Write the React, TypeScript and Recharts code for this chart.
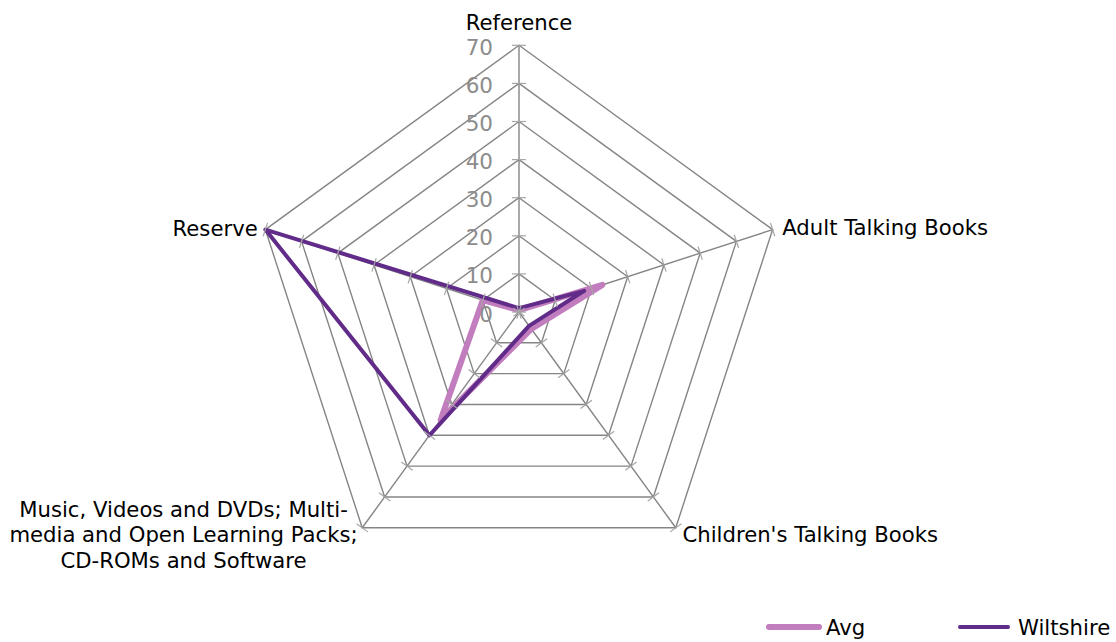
import React from "react";
import { RadarChart, Radar, PolarGrid, PolarAngleAxis, PolarRadiusAxis, Legend } from "recharts";

const categories = [
  "Reference",
  "Adult Talking Books",
  "Children's Talking Books",
  "Music, Videos and DVDs; Multi-|media and Open Learning Packs;|CD-ROMs and Software",
  "Reserve",
];
const avgValues = [0.5, 23, 5.5, 35, 10];
const wiltshireValues = [1, 18, 4.5, 40, 70];
const radiusTicks = [0, 10, 20, 30, 40, 50, 60, 70];
const seriesNames = ["Avg", "Wiltshire"];
const seriesColors = ["#C17DBE", "#612C89"];
const seriesWidths = [6, 4];

const data = categories.map((c, i) => ({ cat: c, Avg: avgValues[i], Wiltshire: wiltshireValues[i] }));

const W = 1116;
const H = 642;
const CX = 519;
const CY = 312;
const OUTER = 266.7;
const FONT = "DejaVu Sans";
const FS = 21.2;

const AngleTick = (props: any) => {
  const { x, y, payload, index } = props;
  const lines = String(payload.value).split("|");
  const common = { fontFamily: FONT, fontSize: FS, fill: "#000" };
  if (index === 0) {
    return (
      <text x={x} y={y - 15} textAnchor="middle" dominantBaseline="central" {...common}>
        {lines[0]}
      </text>
    );
  }
  if (index === 1 || index === 2) {
    return (
      <text x={x + 2} y={y} textAnchor="start" dominantBaseline="central" {...common}>
        {lines[0]}
      </text>
    );
  }
  if (index === 4) {
    return (
      <text x={x} y={y + 1} textAnchor="end" dominantBaseline="central" {...common}>
        {lines[0]}
      </text>
    );
  }
  return (
    <text x={x - 174} y={y} textAnchor="middle" dominantBaseline="central" {...common}>
      {lines.map((l, i) => (
        <tspan key={i} x={x - 174} y={y + (i - 1) * 25.5}>
          {l}
        </tspan>
      ))}
    </text>
  );
};

const RadiusTick = (props: any) => {
  const { x, y, payload } = props;
  const r = Math.sqrt((x - CX) * (x - CX) + (y - CY) * (y - CY));
  const marks = categories.map((_, i) => {
    const ang = ((90 - i * 72) * Math.PI) / 180;
    const px = CX + r * Math.cos(ang);
    const py = CY - r * Math.sin(ang);
    const tx = -Math.sin(ang) * 7;
    const ty = -Math.cos(ang) * 7;
    return (
      <line key={i} x1={px - tx} y1={py - ty} x2={px + tx} y2={py + ty} stroke="#a6a6a6" strokeWidth={1.2} />
    );
  });
  return (
    <g>
      {marks}
      <text
        x={x - 26}
        y={y + 2}
        textAnchor="end"
        dominantBaseline="central"
        fontFamily={FONT}
        fontSize={21.5}
        fill="#8c8c8c"
      >
        {payload.value}
      </text>
    </g>
  );
};

const LegendContent = () => (
  <div style={{ position: "relative", width: 350, height: 30, fontFamily: FONT, fontSize: FS, color: "#000" }}>
    {seriesNames.map((n, i) => {
      const left = i === 0 ? 0 : 192;
      const lw = i === 0 ? 56 : 52;
      return (
        <div key={n} style={{ position: "absolute", left, top: 0, display: "flex", alignItems: "center", height: 30 }}>
          <svg width={lw} height={10} style={{ display: "block" }}>
            <line x1={seriesWidths[i] / 2} y1={5} x2={lw - seriesWidths[i] / 2} y2={5} stroke={seriesColors[i]} strokeWidth={seriesWidths[i]} strokeLinecap="round" />
          </svg>
          <span style={{ marginLeft: i === 0 ? 4 : 8, whiteSpace: "nowrap" }}>{n}</span>
        </div>
      );
    })}
  </div>
);

export default function App() {
  return (
    <div style={{ position: "absolute", left: 0, top: 0, width: W, height: H, background: "#fff" }}>
      <RadarChart width={W} height={H} data={data} cx={CX} cy={CY} outerRadius={OUTER} startAngle={90} endAngle={-270}>
        <PolarGrid gridType="polygon" stroke="#858585" strokeWidth={1.4} />
        <PolarAngleAxis dataKey="cat" tick={<AngleTick />} tickLine={false} axisLine={false} />
        <PolarRadiusAxis
          angle={90}
          domain={[0, 70]}
          ticks={radiusTicks as any}
          tickCount={8}
          axisLine={false}
          tickLine={false}
          tick={<RadiusTick />}
        />
        {seriesNames.map((n, i) => (
          <Radar
            key={n}
            name={n}
            dataKey={n}
            stroke={seriesColors[i]}
            strokeWidth={seriesWidths[i]}
            strokeLinejoin="round"
            fill="none"
            fillOpacity={0}
            dot={false}
            isAnimationActive={false}
          />
        ))}
        <Legend content={<LegendContent />} wrapperStyle={{ position: "absolute", left: 766, top: 612, width: 350 }} />
      </RadarChart>
    </div>
  );
}
